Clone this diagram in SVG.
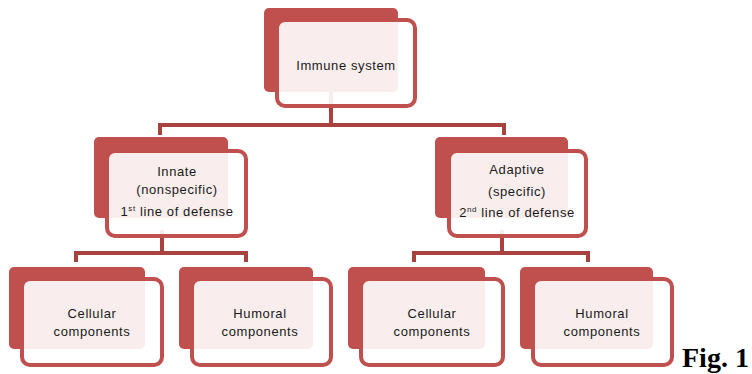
<svg xmlns="http://www.w3.org/2000/svg" width="752" height="374" viewBox="0 0 752 374">
<style>
.back{fill:#c0504d}
.front{fill:#ffffff;fill-opacity:0.9;stroke:#c0504d;stroke-width:4}
.conn{fill:none;stroke:#a8423f;stroke-width:4;stroke-linejoin:miter}
.t{font-family:"Liberation Sans",Arial,sans-serif;font-size:13px;letter-spacing:0.6px;fill:#1a1a1a;text-anchor:middle}
.sup{font-size:8px}
.fig{font-family:"Liberation Serif","Times New Roman",serif;font-weight:bold;font-size:28px;fill:#000}
</style>
<rect width="752" height="374" fill="#ffffff"/>
<g id="connectors">
<path class="conn" d="M331 90 V125 M160 135 V125 H504 V135"/>
<path class="conn" d="M162 230 V253 M76 262 V253 H246 V262"/>
<path class="conn" d="M502 230 V253 M414 262 V253 H588 V262"/>
</g>
<g id="immune">
<rect class="back" x="264" y="8" width="134" height="84" rx="5"/>
<rect class="front" x="277" y="20" width="138" height="86" rx="8"/>
<text class="t" x="346" y="70">Immune system</text>
</g>
<g id="innate">
<rect class="back" x="94" y="137" width="134" height="81" rx="5"/>
<rect class="front" x="107" y="151" width="139" height="85" rx="8"/>
<text class="t" x="177" y="176">Innate</text>
<text class="t" x="177" y="194">(nonspecific)</text>
<text class="t" x="177" y="216">1<tspan class="sup" dy="-5">st</tspan><tspan dy="5"> line of defense</tspan></text>
</g>
<g id="adaptive">
<rect class="back" x="435" y="137" width="133" height="81" rx="5"/>
<rect class="front" x="449" y="151" width="137" height="85" rx="8"/>
<text class="t" x="517" y="174">Adaptive</text>
<text class="t" x="517" y="196">(specific)</text>
<text class="t" x="517" y="217">2<tspan class="sup" dy="-5">nd</tspan><tspan dy="5"> line of defense</tspan></text>
</g>
<g id="innate-cellular">
<rect class="back" x="9" y="267" width="136" height="82" rx="5"/>
<rect class="front" x="22" y="279" width="140" height="86" rx="8"/>
<text class="t" x="92" y="318">Cellular</text>
<text class="t" x="92" y="336">components</text>
</g>
<g id="innate-humoral">
<rect class="back" x="179" y="267" width="134" height="82" rx="5"/>
<rect class="front" x="192" y="279" width="139" height="86" rx="8"/>
<text class="t" x="260" y="318">Humoral</text>
<text class="t" x="260" y="336">components</text>
</g>
<g id="adaptive-cellular">
<rect class="back" x="348" y="267" width="137" height="82" rx="5"/>
<rect class="front" x="361" y="279" width="142" height="86" rx="8"/>
<text class="t" x="432" y="318">Cellular</text>
<text class="t" x="432" y="336">components</text>
</g>
<g id="adaptive-humoral">
<rect class="back" x="520" y="267" width="133" height="82" rx="5"/>
<rect class="front" x="533" y="279" width="139" height="86" rx="8"/>
<text class="t" x="602" y="318">Humoral</text>
<text class="t" x="602" y="336">components</text>
</g>
<text class="fig" x="682" y="367">Fig. 1</text>
</svg>
